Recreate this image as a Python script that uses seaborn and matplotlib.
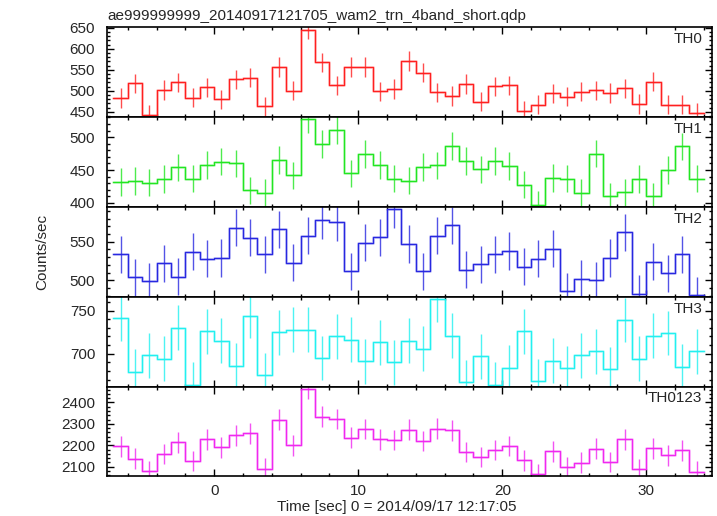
import numpy as np
import pandas as pd
import matplotlib
matplotlib.use("Agg")
import matplotlib.pyplot as plt
from matplotlib.ticker import MultipleLocator
import seaborn as sns

# light curve bins: 1 s wide, left edges from -7 to 33
bin_start = -7
bin_width = 1.0

th0 = [483, 518, 443, 502, 520, 484, 508, 480, 527, 531, 463, 557, 500, 645,
       568, 513, 557, 557, 499, 504, 571, 543, 496, 488, 516, 474, 511, 513,
       453, 467, 494, 486, 498, 501, 495, 506, 469, 522, 467, 467, 448]
th1 = [432, 433, 431, 436, 454, 437, 458, 463, 460, 419, 415, 465, 442, 527,
       490, 511, 445, 474, 458, 437, 434, 455, 457, 487, 464, 451, 464, 456,
       428, 397, 438, 437, 415, 475, 410, 416, 436, 410, 450, 486, 437]
th2 = [534, 504, 499, 522, 505, 537, 528, 529, 568, 555, 534, 566, 523, 558,
       578, 575, 512, 549, 556, 592, 547, 512, 558, 571, 514, 521, 534, 538,
       518, 528, 541, 486, 502, 500, 529, 562, 483, 524, 509, 534, 481]
th3 = [741, 679, 698, 694, 730, 664, 726, 715, 686, 744, 675, 725, 728, 728,
       695, 720, 716, 691, 713, 690, 715, 706, 763, 721, 667, 697, 664, 684,
       726, 668, 692, 683, 698, 703, 682, 739, 694, 721, 724, 685, 703]
th0123 = [2195, 2137, 2079, 2159, 2213, 2126, 2227, 2190, 2246, 2255, 2091,
          2320, 2199, 2462, 2334, 2323, 2236, 2276, 2228, 2224, 2273, 2219,
          2278, 2269, 2168, 2146, 2177, 2196, 2130, 2065, 2171, 2097, 2119,
          2184, 2122, 2227, 2088, 2185, 2153, 2176, 2077]

# error bar half-lengths
errors = [23, 21, 24, 26, 48]

names = ["TH0", "TH1", "TH2", "TH3", "TH0123"]
colors = ["#ff2020", "#22e622", "#2828e0", "#22f0f0", "#f028f0"]
ylims = [(437.5, 651), (394, 530.5), (479, 595), (662, 766), (2055, 2474)]
ymajor = [50, 50, 50, 50, 100]
yminor = [10, 10, 10, 10, 20]

title = "ae999999999_20140917121705_wam2_trn_4band_short.qdp"
xlabel = "Time [sec] 0 = 2014/09/17 12:17:05"
ylabel = "Counts/sec"

sns.set_style("ticks")
plt.rcParams["font.family"] = ["Liberation Sans", "DejaVu Sans"]
plt.rcParams["font.size"] = 11

W, H = 717, 516
fig, axes = plt.subplots(5, 1, sharex=True, figsize=(W / 100, H / 100), dpi=100)
fig.subplots_adjust(left=107 / W, right=711.5 / W, top=1 - 27.3 / H,
                    bottom=1 - 476.3 / H, hspace=0)

series = [th0, th1, th2, th3, th0123]
for ax, vals, err, name, col, yl, ymj, ymn in zip(axes, series, errors, names,
                                                   colors, ylims, ymajor, yminor):
    vals = np.asarray(vals, dtype=float)
    edges = bin_start + bin_width * np.arange(len(vals) + 1)
    centers = edges[:-1] + bin_width / 2
    df = pd.DataFrame({"t": edges, "rate": np.append(vals, vals[-1])})

    # faint halo under the step line, then the thin line itself
    sns.lineplot(data=df, x="t", y="rate", drawstyle="steps-post", sort=False,
                 color=col, lw=1.9, alpha=0.3, ax=ax, legend=False)
    sns.lineplot(data=df, x="t", y="rate", drawstyle="steps-post", sort=False,
                 color=col, lw=0.9, ax=ax, legend=False)
    ax.errorbar(centers, vals, yerr=err, fmt="none", ecolor=col, elinewidth=1.0,
                alpha=0.8)

    ax.set_ylim(*yl)
    ax.set_xlim(-7.45, 34.53)
    ax.yaxis.set_major_locator(MultipleLocator(ymj))
    ax.yaxis.set_minor_locator(MultipleLocator(ymn))
    ax.xaxis.set_major_locator(MultipleLocator(10))
    ax.xaxis.set_minor_locator(MultipleLocator(2))
    ax.tick_params(which="both", direction="in", top=True, right=True,
                   width=1.0, color="black")
    ax.tick_params(which="major", length=4.7)
    ax.tick_params(which="minor", length=2.5)
    ax.tick_params(axis="y", pad=8.5, labelsize=11)
    ax.tick_params(axis="x", pad=5.5, labelsize=11)
    for sp in ax.spines.values():
        sp.set_linewidth(1.2)
        sp.set_color("black")
    ax.set_xlabel("")
    ax.set_ylabel("")
    ax.text(0.985, 1 - 16 / 89.8, name, transform=ax.transAxes, ha="right",
            va="baseline", fontsize=11)

fig.text(107 / W, 1 - 20 / H, title, ha="left", va="baseline", fontsize=11)
fig.text(397 / W, 1 - 511 / H, xlabel, ha="center", va="baseline", fontsize=11)
fig.text(42 / W, 1 - 252 / H, ylabel, rotation=90, ha="center", va="center",
         fontsize=11)

fig.savefig("out.png", dpi=100)
